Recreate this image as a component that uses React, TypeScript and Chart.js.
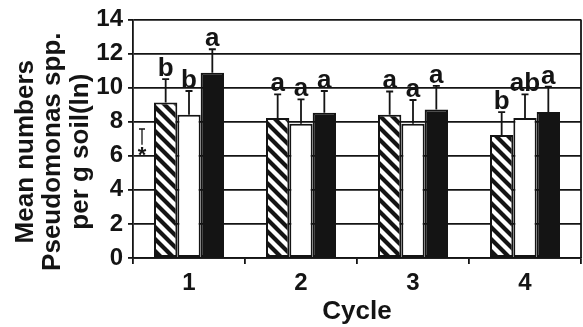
import React, { useEffect, useRef } from "react";
import { Chart, registerables } from "chart.js";

Chart.register(...registerables);

// ---- data ----
const cycles = ["1", "2", "3", "4"];
const hatchedMeans = [9.13, 8.21, 8.4, 7.21];
const hatchedErrors = [1.37, 1.39, 1.37, 1.35];
const whiteMeans = [8.4, 7.88, 7.88, 8.21];
const whiteErrors = [1.4, 1.43, 1.39, 1.39];
const blackMeans = [10.87, 8.52, 8.71, 8.56];
const blackErrors = [1.38, 1.28, 1.39, 1.49];
const hatchedLetters = ["b", "a", "a", "b"];
const whiteLetters = ["b", "a", "a", "ab"];
const blackLetters = ["a", "a", "a", "a"];
const yTickValues = [0, 2, 4, 6, 8, 10, 12, 14];
const yTitleLines = ["Mean numbers", "Pseudomonas spp.", "per g soil(ln)"];
const xTitle = "Cycle";
const controlMarkValue = 6.25;
const controlErrorLow = 6.65;
const controlErrorHigh = 7.57;

const FONT = '"Liberation Sans", Arial, Helvetica, sans-serif';
const INK = "#141414";

function makeHatch(): CanvasPattern | string {
  const c = document.createElement("canvas");
  c.width = 12;
  c.height = 12;
  const g = c.getContext("2d");
  if (!g) return "#fff";
  g.fillStyle = "#ffffff";
  g.fillRect(0, 0, 12, 12);
  g.strokeStyle = INK;
  g.lineWidth = 4.2;
  g.beginPath();
  g.moveTo(-3, -3);
  g.lineTo(15, 15);
  g.moveTo(-3, 9);
  g.lineTo(3, 15);
  g.moveTo(9, -3);
  g.lineTo(15, 3);
  g.stroke();
  const p = g.createPattern(c, "repeat");
  return p || "#fff";
}

const errorsByDataset = [hatchedErrors, whiteErrors, blackErrors];
const meansByDataset = [hatchedMeans, whiteMeans, blackMeans];
const lettersByDataset = [hatchedLetters, whiteLetters, blackLetters];

const decorPlugin = {
  id: "decor",
  beforeDatasetsDraw(chart: any) {
    const { ctx, chartArea } = chart;
    ctx.save();
    ctx.strokeStyle = INK;
    ctx.lineWidth = 1.8;
    ctx.beginPath();
    ctx.moveTo(chartArea.right, chartArea.top);
    ctx.lineTo(chartArea.right, chartArea.bottom);
    ctx.stroke();
    ctx.restore();
  },
  afterDatasetsDraw(chart: any) {
    const { ctx, chartArea, scales } = chart;
    const y = scales.y;
    ctx.save();
    ctx.strokeStyle = INK;
    ctx.fillStyle = INK;
    ctx.lineWidth = 1.8;
    for (let d = 0; d < 3; d++) {
      const meta = chart.getDatasetMeta(d);
      meta.data.forEach((bar: any, i: number) => {
        const top = y.getPixelForValue(meansByDataset[d][i]);
        const errTop = y.getPixelForValue(meansByDataset[d][i] + errorsByDataset[d][i]);
        ctx.beginPath();
        ctx.moveTo(bar.x, top);
        ctx.lineTo(bar.x, errTop);
        ctx.moveTo(bar.x - 3.5, errTop);
        ctx.lineTo(bar.x + 3.5, errTop);
        ctx.stroke();
        ctx.font = `bold 26px ${FONT}`;
        ctx.textAlign = "center";
        ctx.textBaseline = "alphabetic";
        ctx.fillText(lettersByDataset[d][i], bar.x, errTop - 3);
      });
    }
    // control annotation left of the first group
    const first = chart.getDatasetMeta(0).data[0];
    const cx = first.x - first.width / 2 - 12;
    const lo = y.getPixelForValue(controlErrorLow);
    const hi = y.getPixelForValue(controlErrorHigh);
    ctx.lineWidth = 1.3;
    ctx.beginPath();
    ctx.moveTo(cx, lo);
    ctx.lineTo(cx, hi);
    ctx.moveTo(cx - 3, hi);
    ctx.lineTo(cx + 3, hi);
    ctx.stroke();
    ctx.font = `bold 22px ${FONT}`;
    ctx.textAlign = "center";
    ctx.textBaseline = "middle";
    ctx.fillText("*", cx, y.getPixelForValue(controlMarkValue) + 4);

    // y axis title
    ctx.font = `bold 26px ${FONT}`;
    ctx.textAlign = "center";
    ctx.textBaseline = "alphabetic";
    const cy = (chartArea.top + chartArea.bottom) / 2 + 13;
    const baselines = [33, 60, 88];
    yTitleLines.forEach((line, k) => {
      ctx.save();
      ctx.translate(baselines[k], cy);
      ctx.rotate(-Math.PI / 2);
      ctx.fillText(line, 0, 0);
      ctx.restore();
    });
    ctx.restore();
  },
};

export default function App() {
  const ref = useRef<HTMLCanvasElement | null>(null);
  useEffect(() => {
    if (!ref.current) return;
    const hatch = makeHatch();
    const common = {
      borderColor: INK,
      borderWidth: 2,
      borderSkipped: false as const,
      barPercentage: 1,
      categoryPercentage: 0.625,
    };
    const chart = new Chart(ref.current, {
      type: "bar",
      data: {
        labels: cycles,
        datasets: [
          { ...common, label: "A", data: hatchedMeans, backgroundColor: hatch as any },
          { ...common, label: "B", data: whiteMeans, backgroundColor: "#ffffff" },
          { ...common, label: "C", data: blackMeans, backgroundColor: INK },
        ],
      },
      options: {
        animation: false,
        responsive: true,
        maintainAspectRatio: false,
        layout: { padding: { left: 0, right: 2, top: 16, bottom: 0 } },
        plugins: { legend: { display: false }, tooltip: { enabled: false } },
        scales: {
          x: {
            grid: {
              drawOnChartArea: false,
              drawTicks: true,
              tickLength: 6,
              color: INK,
              lineWidth: 1.8,
              offset: true,
            },
            border: { color: INK, width: 1.8 },
            ticks: { font: { family: FONT, size: 24, weight: "bold" }, color: INK, padding: 5 },
            title: {
              display: true,
              text: xTitle,
              font: { family: FONT, size: 26, weight: "bold" },
              color: INK,
              padding: { top: 0, bottom: 0 },
            },
            afterFit: (s: any) => {
              s.height = 69;
            },
          },
          y: {
            min: 0,
            max: 14,
            afterBuildTicks: (s: any) => {
              s.ticks = yTickValues.map((v) => ({ value: v }));
            },
            grid: { color: INK, lineWidth: 1.8, tickLength: 5, drawTicks: true },
            border: { color: INK, width: 1.8 },
            ticks: { font: { family: FONT, size: 24, weight: "bold" }, color: INK, padding: 5 },
            afterFit: (s: any) => {
              s.width = 133;
            },
          },
        },
      },
      plugins: [decorPlugin],
    });
    return () => chart.destroy();
  }, []);
  return (
    <div style={{ position: "absolute", left: 0, top: 0, width: 583, height: 327, background: "#fff" }}>
      <canvas ref={ref} />
    </div>
  );
}
